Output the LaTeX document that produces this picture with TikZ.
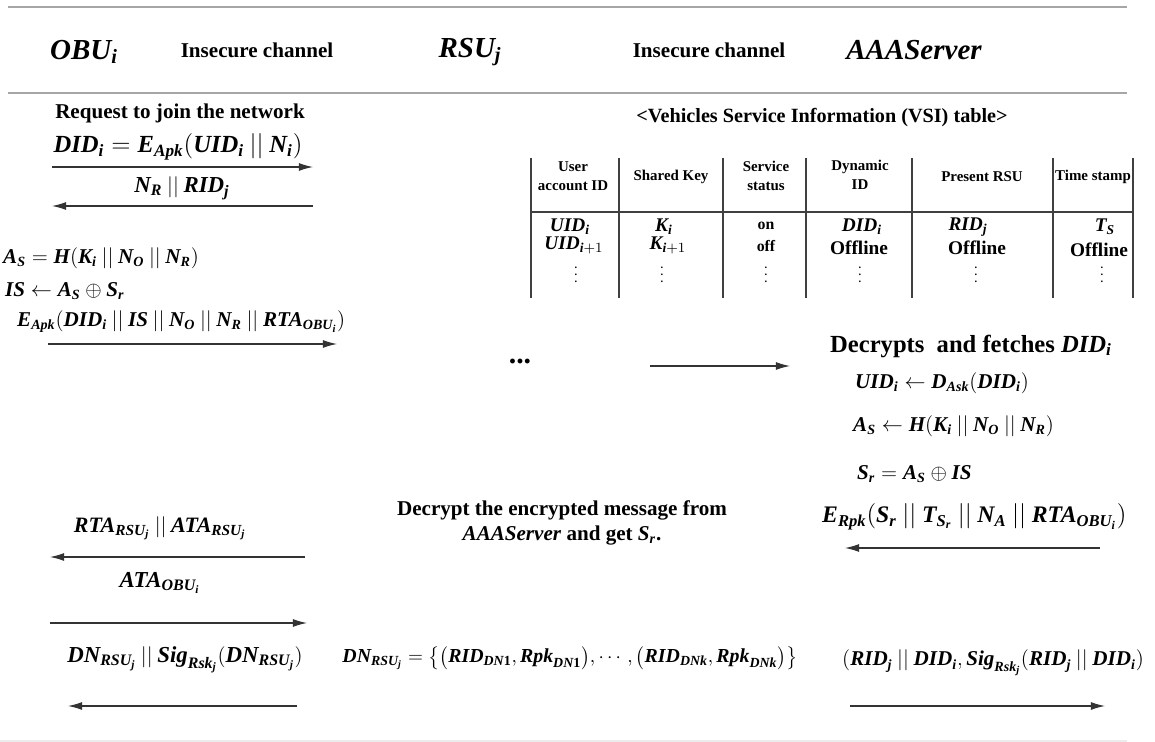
\documentclass[tikz,border=0pt]{standalone}
\usepackage{amsmath}
\usepackage{fontspec}
\setmainfont{Liberation Serif}
\usetikzlibrary{arrows.meta}

\newcommand{\bi}[1]{\text{\bfseries\itshape #1}}
\newcommand{\concat}{\mathbin{||}}

\tikzset{
	sepLine/.style={draw=gray!70, line width=1pt},
	tableLine/.style={draw=black!75, line width=0.6pt},
	msgArrow/.style={draw=black!80, line width=0.6pt, -{Latex[length=8pt,width=4.5pt]}},
	partyText/.style={font=\fontsize{16.5}{19}\selectfont},
	plainText/.style={font=\bfseries\fontsize{12}{14}\selectfont},
	msgText/.style={font=\fontsize{12}{14}\selectfont},
	bigMsgText/.style={font=\fontsize{14}{16}\selectfont},
	cellHead/.style={font=\bfseries\fontsize{8.5}{10.5}\selectfont, align=center},
	cellMath/.style={font=\fontsize{11}{13}\selectfont},
	cellWord/.style={font=\bfseries\fontsize{9}{11}\selectfont},
	cellDots/.style={font=\bfseries\fontsize{6}{7}\selectfont, inner sep=0pt},
}

\begin{document}
\begin{tikzpicture}[x=0.02cm, y=-0.02cm]
	\useasboundingbox (0,0) rectangle (1155,742);

	\coordinate (top_left) at (8,7);
	\coordinate (top_right) at (1127,7);
	\coordinate (mid_left) at (8,93);
	\coordinate (mid_right) at (1127,93);
	\coordinate (bot_left) at (0,741);
	\coordinate (bot_right) at (1127,741);

	% Header
	\draw[sepLine] (top_left) -- (top_right);
	\draw[sepLine] (mid_left) -- (mid_right);
	\draw[draw=gray!15, line width=1pt] (bot_left) -- (bot_right);

	\node[partyText] (obu) at (84,52) {$\bi{OBU}_{\bi{i}}$};
	\node[plainText] (chan_obu_rsu) at (257,50) {Insecure channel};
	\node[partyText] (rsu) at (470,52) {$\bi{RSU}_{\bi{j}}$};
	\node[plainText] (chan_rsu_aaa) at (709,50) {Insecure channel};
	\node[partyText] (aaa) at (914,50) {\bfseries\itshape AAAServer};

	% OBU <-> RSU, join request
	\node[plainText] (join_title) at (180,113) {Request to join the network};
	\node[bigMsgText] (did_msg) at (178,147)
		{$\bi{DID}_{\bi{i}} = \bi{E}_{\bi{Apk}}(\bi{UID}_{\bi{i}} \concat \bi{N}_{\bi{i}})$};
	\coordinate (did_start) at (52,167);
	\coordinate (did_end) at (313,167);
	\draw[msgArrow] (did_start) -- (did_end);

	\node[msgText, font=\fontsize{13}{15}\selectfont] (nonce_msg) at (182,188)
		{$\bi{N}_{\bi{R}} \concat \bi{RID}_{\bi{j}}$};
	\coordinate (nonce_start) at (313,206);
	\coordinate (nonce_end) at (52,206);
	\draw[msgArrow] (nonce_start) -- (nonce_end);

	\node[msgText, anchor=west] (as_obu) at (-3,258)
		{$\bi{A}_{\bi{S}} = \bi{H}(\bi{K}_{\bi{i}} \concat \bi{N}_{\bi{O}} \concat \bi{N}_{\bi{R}})$};
	\node[msgText, anchor=west] (is_obu) at (-1,291)
		{$\bi{IS} \leftarrow \bi{A}_{\bi{S}} \oplus \bi{S}_{\bi{r}}$};
	\node[msgText, anchor=west] (enc_obu) at (11,322)
		{$\bi{E}_{\bi{Apk}}(\bi{DID}_{\bi{i}} \concat \bi{IS} \concat \bi{N}_{\bi{O}} \concat \bi{N}_{\bi{R}} \concat \bi{RTA}_{\bi{OBU}_{\bi{i}}})$};
	\coordinate (enc_start) at (48,344);
	\coordinate (enc_end) at (337,344);
	\draw[msgArrow] (enc_start) -- (enc_end);

	% RSU -> AAAServer
	\node[font=\bfseries\fontsize{17}{19}\selectfont] (fwd_dots) at (520,362) {...};
	\coordinate (fwd_start) at (650,366);
	\coordinate (fwd_end) at (790,366);
	\draw[msgArrow] (fwd_start) -- (fwd_end);

	% VSI table
	\node[font=\bfseries\fontsize{11.5}{13}\selectfont] (vsi_title) at (822,118)
		{<Vehicles Service Information (VSI) table>};
	\foreach \x in {531,619,723,806,912,1053,1133}
		\draw[tableLine] (\x,158) -- (\x,298);
	\draw[tableLine] (531,212) -- (1133,212);

	\node[cellHead] (head_uid) at (573,176) {User\\account ID};
	\node[cellHead] (head_key) at (671,177) {Shared Key};
	\node[cellHead] (head_status) at (766,176) {Service\\status};
	\node[cellHead] (head_did) at (860,175) {Dynamic\\ID};
	\node[cellHead] (head_rsu) at (982,177) {Present RSU};
	\node[cellHead] (head_time) at (1093,177) {Time stamp};

	\node[cellMath] (uid_one) at (570,227) {$\bi{UID}_{\bi{i}}$};
	\node[cellMath] (uid_two) at (574,245) {$\bi{UID}_{\bi{i}+1}$};
	\node[cellMath] (key_one) at (664,227) {$\bi{K}_{\bi{i}}$};
	\node[cellMath] (key_two) at (668,245) {$\bi{K}_{\bi{i}+1}$};
	\node[cellWord] (status_one) at (766,226) {on};
	\node[cellWord] (status_two) at (766,246) {off};
	\node[cellMath] (did_one) at (862,227) {$\bi{DID}_{\bi{i}}$};
	\node[cellMath, font=\bfseries\fontsize{11}{13}\selectfont] (did_two) at (859,248) {Offline};
	\node[cellMath] (rid_one) at (968,227) {$\bi{RID}_{\bi{j}}$};
	\node[cellMath, font=\bfseries\fontsize{11}{13}\selectfont] (rid_two) at (977,248) {Offline};
	\node[cellMath] (time_one) at (1105,227) {$\bi{T}_{\bi{S}}$};
	\node[cellMath, font=\bfseries\fontsize{11}{13}\selectfont] (time_two) at (1099,250) {Offline};
	\foreach \x [count=\i] in {576,662,766,860,976,1102}
		\node[cellDots] (row_dots\i) at (\x,270) {$\vdots$};

	% AAAServer side
	\node[font=\bfseries\fontsize{14}{16}\selectfont] (fetch_title) at (971,346)
		{Decrypts\ \ and fetches $\bi{DID}_{\bi{i}}$};
	\node[msgText, anchor=west] (uid_aaa) at (849,383)
		{$\bi{UID}_{\bi{i}} \leftarrow \bi{D}_{\bi{Ask}}(\bi{DID}_{\bi{i}})$};
	\node[msgText, anchor=west] (as_aaa) at (847,426)
		{$\bi{A}_{\bi{S}} \leftarrow \bi{H}(\bi{K}_{\bi{i}} \concat \bi{N}_{\bi{O}} \concat \bi{N}_{\bi{R}})$};
	\node[msgText, anchor=west] (sr_aaa) at (851,474)
		{$\bi{S}_{\bi{r}} = \bi{A}_{\bi{S}} \oplus \bi{IS}$};
	\node[bigMsgText, font=\fontsize{13.5}{15}\selectfont, anchor=west] (enc_aaa) at (816,517)
		{$\bi{E}_{\bi{Rpk}}(\bi{S}_{\bi{r}} \concat \bi{T}_{\bi{S}_{\bi{r}}} \concat \bi{N}_{\bi{A}} \concat \bi{RTA}_{\bi{OBU}_{\bi{i}}})$};
	\coordinate (reply_start) at (1100,548);
	\coordinate (reply_end) at (845,548);
	\draw[msgArrow] (reply_start) -- (reply_end);

	% RSU side
	\node[plainText, align=center] (decrypt_rsu) at (562,523)
		{Decrypt the encrypted message from\\ \textit{AAAServer} and get $\bi{S}_{\bi{r}}$.};

	% RSU <-> OBU, answer
	\node[msgText, font=\fontsize{12.5}{14}\selectfont] (rta_msg) at (160,528)
		{$\bi{RTA}_{\bi{RSU}_{\bi{j}}} \concat \bi{ATA}_{\bi{RSU}_{\bi{j}}}$};
	\coordinate (rta_start) at (305,557);
	\coordinate (rta_end) at (50,557);
	\draw[msgArrow] (rta_start) -- (rta_end);

	\node[msgText, font=\fontsize{13}{15}\selectfont] (ata_msg) at (160,583) {$\bi{ATA}_{\bi{OBU}_{\bi{i}}}$};
	\coordinate (ata_start) at (50,623);
	\coordinate (ata_end) at (307,623);
	\draw[msgArrow] (ata_start) -- (ata_end);

	\node[msgText, font=\fontsize{13}{15}\selectfont] (dn_msg) at (185,660)
		{$\bi{DN}_{\bi{RSU}_{\bi{j}}} \concat \bi{Sig}_{\bi{Rsk}_{\bi{j}}}(\bi{DN}_{\bi{RSU}_{\bi{j}}})$};
	\coordinate (dn_start) at (297,706);
	\coordinate (dn_end) at (68,706);
	\draw[msgArrow] (dn_start) -- (dn_end);

	\node[msgText, font=\fontsize{11.3}{13}\selectfont] (dn_set) at (570,658)
		{$\bi{DN}_{\bi{RSU}_{\bi{j}}} = \bigl\{\bigl(\bi{RID}_{\bi{DN}\text{\bfseries 1}}, \bi{Rpk}_{\bi{DN}\text{\bfseries 1}}\bigr), \cdots, \bigl(\bi{RID}_{\bi{DNk}}, \bi{Rpk}_{\bi{DNk}}\bigr)\bigr\}$};

	% RSU -> AAAServer, report
	\node[msgText, anchor=west] (report_msg) at (836,663)
		{$(\bi{RID}_{\bi{j}} \concat \bi{DID}_{\bi{i}}, \bi{Sig}_{\bi{Rsk}_{\bi{j}}}(\bi{RID}_{\bi{j}} \concat \bi{DID}_{\bi{i}})$};
	\coordinate (report_start) at (850,706);
	\coordinate (report_end) at (1105,706);
	\draw[msgArrow] (report_start) -- (report_end);

\end{tikzpicture}
\end{document}
